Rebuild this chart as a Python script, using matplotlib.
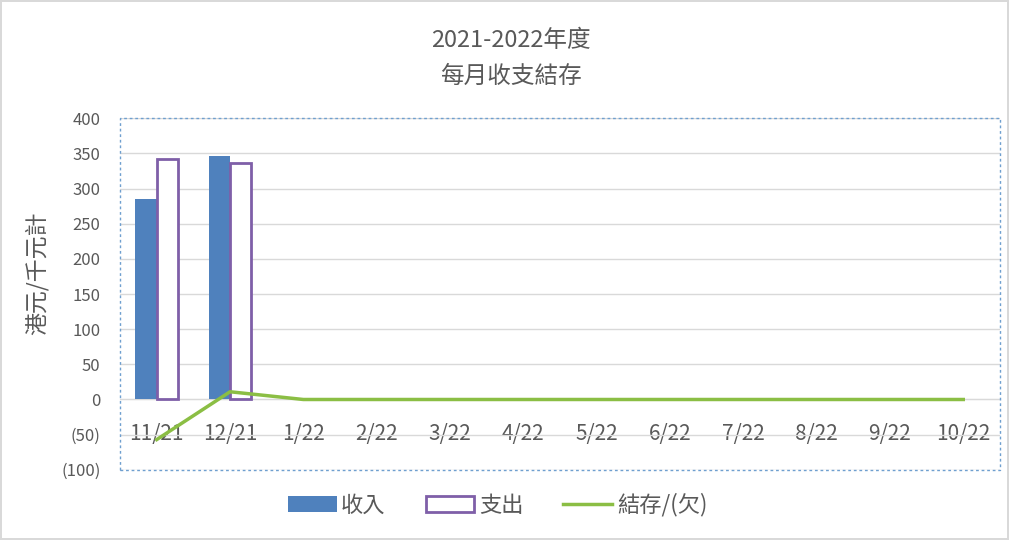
import matplotlib
matplotlib.use("Agg")
import matplotlib.pyplot as plt
from matplotlib.patches import Rectangle
import matplotlib.ticker as mticker
import numpy as np

plt.rcParams['font.family'] = ['Noto Sans CJK TC', 'DejaVu Sans']

# data
months = ["11/21", "12/21", "1/22", "2/22", "3/22", "4/22", "5/22",
          "6/22", "7/22", "8/22", "9/22", "10/22"]
income = [285, 347]
expense = [342, 336]
balance = [-57, 11, 0, 0, 0, 0, 0, 0, 0, 0, 0, 0]

txt = "#595959"
fig = plt.figure(figsize=(10.09, 5.40), dpi=100)
fig.patch.set_edgecolor("#d9d9d9")
fig.patch.set_linewidth(1.5)
ax = fig.add_axes([0.119, 0.130, 0.872, 0.651])

x = np.arange(len(months))
w = 0.29
b1 = ax.bar(x[:len(income)] - w / 2, income, w, color="#4F81BD", zorder=3, label="收入")
b2 = ax.bar(x[:len(expense)] + w / 2, expense, w, facecolor="white", edgecolor="#7F5FA8",
            linewidth=2, zorder=3, label="支出")
ln, = ax.plot(x, balance, color="#8BBE44", lw=2.5, zorder=4, label="結存/(欠)")

ax.set_xlim(-0.5, len(months) - 0.5)
ax.set_ylim(-100, 400)
ax.set_yticks(range(-100, 401, 50))
ax.yaxis.set_major_formatter(mticker.FuncFormatter(
    lambda v, p: f"({abs(int(v))})" if v < 0 else f"{int(v)}"))
ax.grid(axis="y", color="#d9d9d9", lw=1, zorder=0)
ax.set_axisbelow(True)

for s in ["top", "right", "left"]:
    ax.spines[s].set_visible(False)
ax.spines["bottom"].set_position(("data", 0))
ax.spines["bottom"].set_color("#d9d9d9")
ax.set_xticks(x)
ax.set_xticklabels(months)
ax.tick_params(axis="x", length=0, pad=17, labelsize=15, labelcolor=txt)
ax.tick_params(axis="y", length=0, labelsize=12, labelcolor=txt, pad=14)

# dashed plot-area border
ax.add_patch(Rectangle((0, 0), 1, 1, transform=ax.transAxes, fill=False,
                       edgecolor="#6f9fcf", lw=1, ls=(0, (2, 2)), clip_on=False, zorder=5))

ax.set_ylabel("港元/千元計", fontsize=16.5, color=txt)
ax.yaxis.set_label_coords(-0.081, 0.56)
fig.text(0.506, 0.925, "2021-2022年度", ha="center", va="center", fontsize=17, color=txt)
fig.text(0.506, 0.858, "每月收支結存", ha="center", va="center", fontsize=17, color=txt)

fig.legend(handles=[b1, b2, ln], loc="center", bbox_to_anchor=(0.493, 0.065), ncol=3,
           frameon=False, fontsize=16, labelcolor=txt, handlelength=2.2,
           handletextpad=0.2, columnspacing=1.8)

fig.savefig("out.png", dpi=100)
